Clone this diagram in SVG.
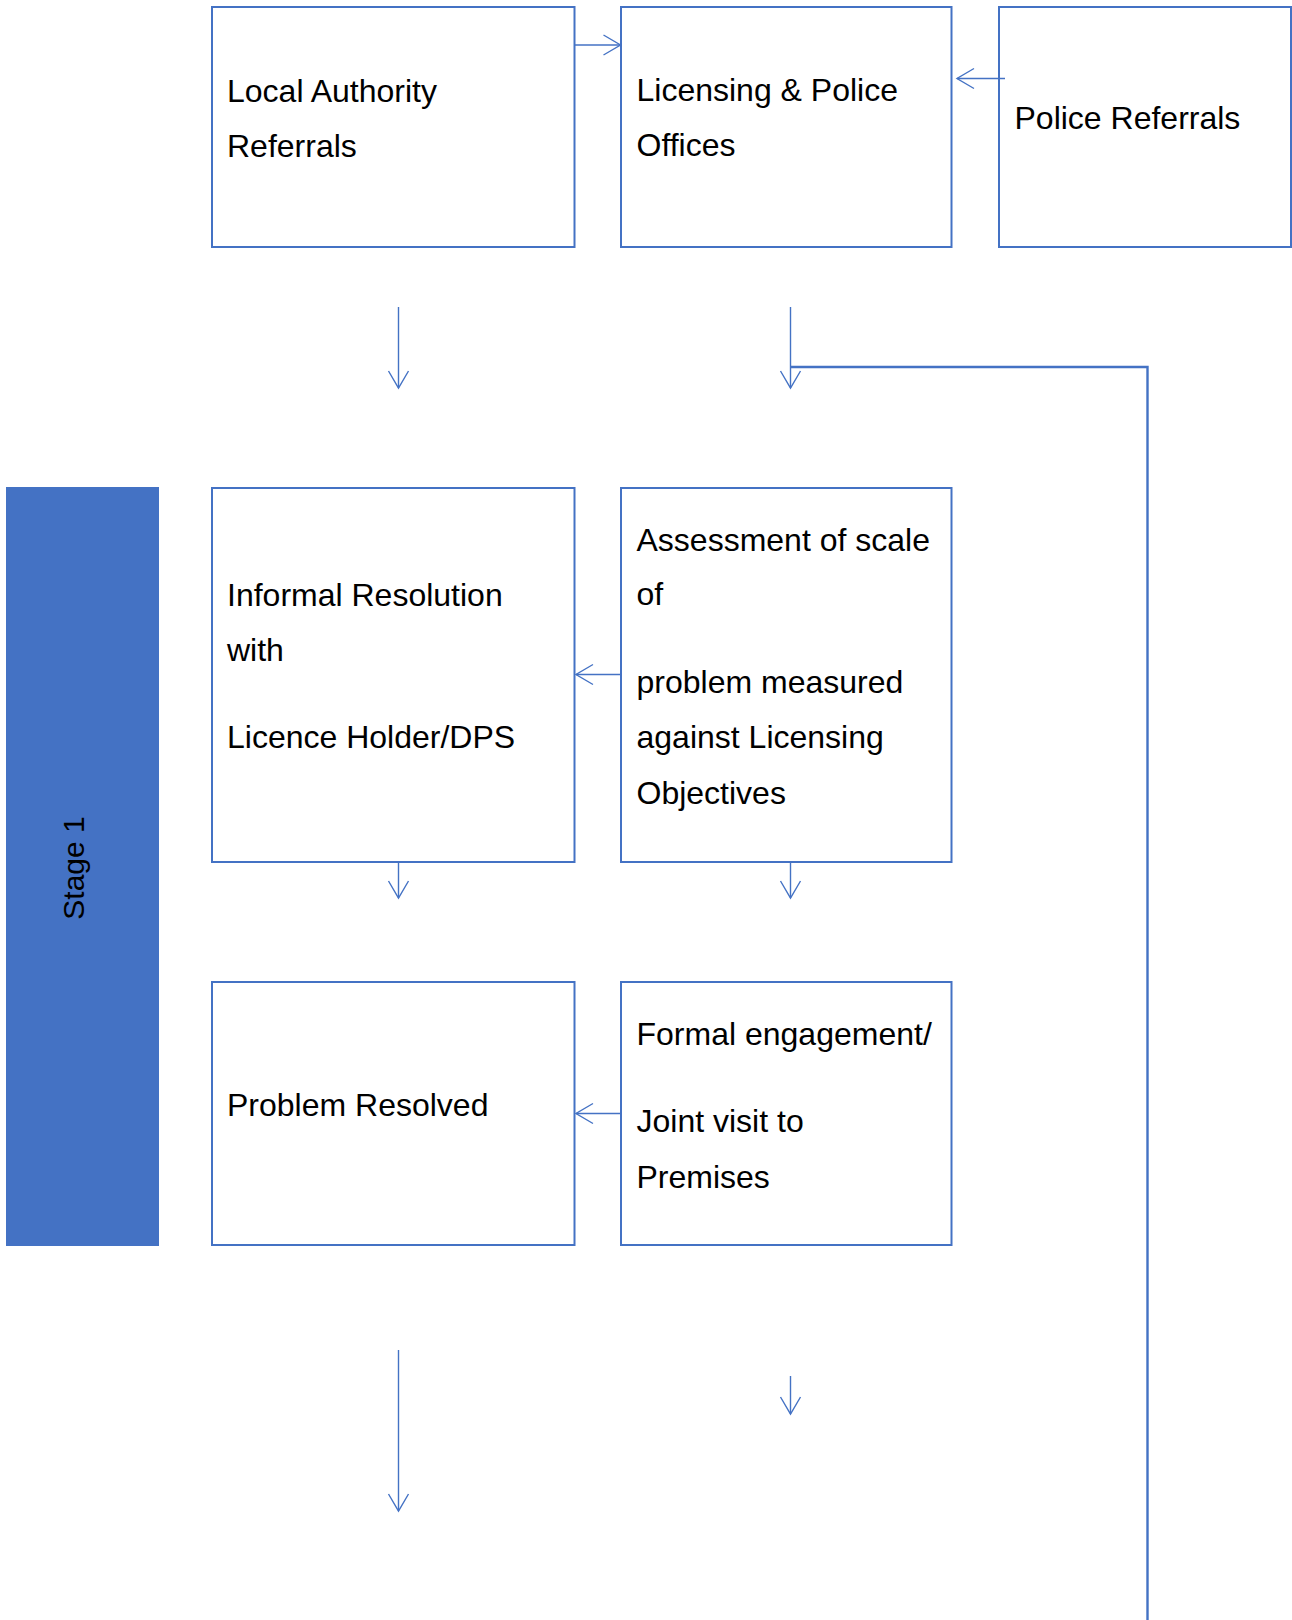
<svg xmlns="http://www.w3.org/2000/svg" width="1292" height="1620" viewBox="0 0 1292 1620">
<style>
.box{fill:#fff;stroke:#4472C4;stroke-width:2}
.lbl{font-family:"Liberation Sans",Arial,sans-serif;font-size:32px;fill:#000}
.con{fill:none;stroke:#4472C4;stroke-width:1.4}
.thick{fill:none;stroke:#4472C4;stroke-width:2.4}
</style>
<defs>
<marker id="arr" markerUnits="userSpaceOnUse" markerWidth="24" markerHeight="24" viewBox="-20 -12 24 24" refX="0" refY="0" orient="auto">
<path d="M-17,-10 L0,0 L-17,10" fill="none" stroke="#4472C4" stroke-width="1.4"/>
</marker>
</defs>
<rect width="1292" height="1620" fill="#fff"/>

<g id="stage1">
<rect x="6" y="487" width="153" height="759" fill="#4472C4"/>
<text class="lbl" style="font-size:30px" text-anchor="middle" transform="translate(84,868) rotate(-90)">Stage 1</text>
</g>

<g id="local-authority">
<rect class="box" x="212" y="7" width="362.5" height="240"/>
<text class="lbl" x="227" y="102">Local Authority</text>
<text class="lbl" x="227" y="157">Referrals</text>
</g>

<g id="licensing-police">
<rect class="box" x="621" y="7" width="330.5" height="240"/>
<text class="lbl" x="636.5" y="101">Licensing &amp; Police</text>
<text class="lbl" x="636.5" y="156">Offices</text>
</g>

<g id="police-referrals">
<rect class="box" x="999" y="7" width="292" height="240"/>
<text class="lbl" x="1014.5" y="129">Police Referrals</text>
</g>

<g id="informal-resolution">
<rect class="box" x="212" y="488" width="362.5" height="374"/>
<text class="lbl" x="227" y="606">Informal Resolution</text>
<text class="lbl" x="227" y="661">with</text>
<text class="lbl" x="227" y="748">Licence Holder/DPS</text>
</g>

<g id="assessment">
<rect class="box" x="621" y="488" width="330.5" height="374"/>
<text class="lbl" x="636.5" y="551">Assessment of scale</text>
<text class="lbl" x="636.5" y="605">of</text>
<text class="lbl" x="636.5" y="693">problem measured</text>
<text class="lbl" x="636.5" y="748">against Licensing</text>
<text class="lbl" x="636.5" y="804">Objectives</text>
</g>

<g id="problem-resolved">
<rect class="box" x="212" y="982" width="362.5" height="263"/>
<text class="lbl" x="227" y="1116">Problem Resolved</text>
</g>

<g id="formal-engagement">
<rect class="box" x="621" y="982" width="330.5" height="263"/>
<text class="lbl" x="636.5" y="1045">Formal engagement/</text>
<text class="lbl" x="636.5" y="1132">Joint visit to</text>
<text class="lbl" x="636.5" y="1188">Premises</text>
</g>

<g id="connectors">
<line class="con" x1="574.5" y1="45" x2="620.5" y2="45" marker-end="url(#arr)"/>
<line class="con" x1="1005" y1="78.5" x2="957" y2="78.5" marker-end="url(#arr)"/>
<line class="con" x1="398.5" y1="307" x2="398.5" y2="388" marker-end="url(#arr)"/>
<line class="con" x1="790.5" y1="307" x2="790.5" y2="388" marker-end="url(#arr)"/>
<polyline class="thick" points="790.5,367 1147.5,367 1147.5,1620"/>
<line class="con" x1="620.5" y1="674.5" x2="576" y2="674.5" marker-end="url(#arr)"/>
<line class="con" x1="398.5" y1="862" x2="398.5" y2="898" marker-end="url(#arr)"/>
<line class="con" x1="790.5" y1="862" x2="790.5" y2="898" marker-end="url(#arr)"/>
<line class="con" x1="620.5" y1="1113.5" x2="576" y2="1113.5" marker-end="url(#arr)"/>
<line class="con" x1="398.5" y1="1350" x2="398.5" y2="1511" marker-end="url(#arr)"/>
<line class="con" x1="790.5" y1="1376" x2="790.5" y2="1414" marker-end="url(#arr)"/>
</g>
</svg>
